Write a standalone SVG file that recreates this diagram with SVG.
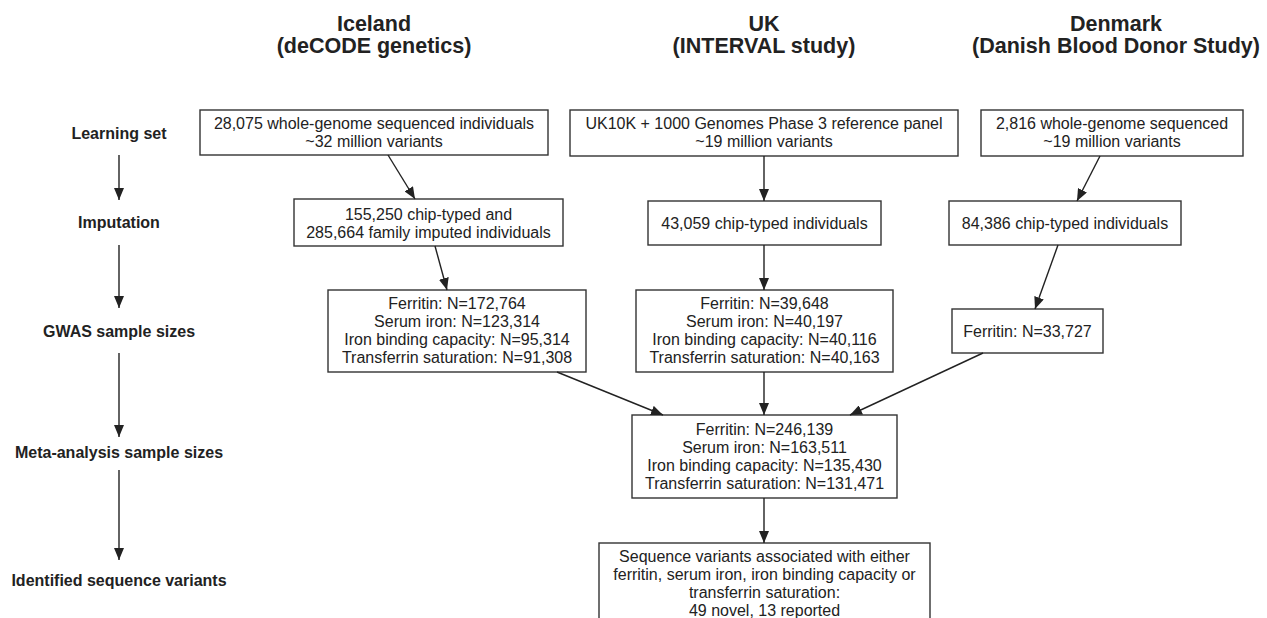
<svg xmlns="http://www.w3.org/2000/svg" width="1267" height="618" viewBox="0 0 1267 618">
<style>
.t{font-family:"Liberation Sans",Arial,sans-serif;font-size:16px;fill:#222;text-anchor:middle}
.h{font-family:"Liberation Sans",Arial,sans-serif;font-size:21.5px;font-weight:bold;fill:#222;text-anchor:middle}
.l{font-family:"Liberation Sans",Arial,sans-serif;font-size:16px;font-weight:bold;fill:#222;text-anchor:middle}
.b{fill:#fff;stroke:#333;stroke-width:1.4}
.c{stroke:#222;stroke-width:1.4;fill:none;marker-end:url(#ah)}
</style>
<defs>
<marker id="ah" markerUnits="userSpaceOnUse" markerWidth="12" markerHeight="10" viewBox="0 0 12 10" refX="12" refY="5" orient="auto">
<path d="M0,0 L12,5 L0,10 Z" fill="#222"/>
</marker>
</defs>
<rect width="1267" height="618" fill="#fff"/>
<g id="titles">
<text class="h" x="374" y="31">Iceland</text>
<text class="h" x="374" y="53">(deCODE genetics)</text>
<text class="h" x="764" y="31">UK</text>
<text class="h" x="764" y="53">(INTERVAL study)</text>
<text class="h" x="1116" y="31">Denmark</text>
<text class="h" x="1116" y="53">(Danish Blood Donor Study)</text>
</g>
<g id="stages">
<text class="l" x="119" y="139">Learning set</text>
<text class="l" x="119" y="228">Imputation</text>
<text class="l" x="119" y="337">GWAS sample sizes</text>
<text class="l" x="119" y="458">Meta-analysis sample sizes</text>
<text class="l" x="119" y="586">Identified sequence variants</text>
</g>
<g id="ice-learn"><rect class="b" x="200" y="110" width="348" height="45"/>
<text class="t" x="374" y="129">28,075 whole-genome sequenced individuals</text>
<text class="t" x="374" y="147">~32 million variants</text></g>
<g id="uk-learn"><rect class="b" x="570" y="110" width="388" height="46"/>
<text class="t" x="764" y="129">UK10K + 1000 Genomes Phase 3 reference panel</text>
<text class="t" x="764" y="147">~19 million variants</text></g>
<g id="dk-learn"><rect class="b" x="981" y="110" width="262" height="46"/>
<text class="t" x="1112" y="129">2,816 whole-genome sequenced</text>
<text class="t" x="1112" y="147">~19 million variants</text></g>
<g id="ice-imp"><rect class="b" x="294" y="199" width="269" height="47"/>
<text class="t" x="428.5" y="220">155,250 chip-typed and</text>
<text class="t" x="428.5" y="238">285,664 family imputed individuals</text></g>
<g id="uk-imp"><rect class="b" x="648" y="201" width="233" height="44"/>
<text class="t" x="764.5" y="229">43,059 chip-typed individuals</text></g>
<g id="dk-imp"><rect class="b" x="949" y="201" width="232" height="44"/>
<text class="t" x="1065" y="229">84,386 chip-typed individuals</text></g>
<g id="ice-gwas"><rect class="b" x="328" y="290" width="258" height="82"/>
<text class="t" x="457" y="309">Ferritin: N=172,764</text>
<text class="t" x="457" y="327">Serum iron: N=123,314</text>
<text class="t" x="457" y="345">Iron binding capacity: N=95,314</text>
<text class="t" x="457" y="363">Transferrin saturation: N=91,308</text></g>
<g id="uk-gwas"><rect class="b" x="636" y="290" width="257" height="82"/>
<text class="t" x="764.5" y="309">Ferritin: N=39,648</text>
<text class="t" x="764.5" y="327">Serum iron: N=40,197</text>
<text class="t" x="764.5" y="345">Iron binding capacity: N=40,116</text>
<text class="t" x="764.5" y="363">Transferrin saturation: N=40,163</text></g>
<g id="dk-gwas"><rect class="b" x="952" y="309" width="151" height="44"/>
<text class="t" x="1027.5" y="337">Ferritin: N=33,727</text></g>
<g id="meta"><rect class="b" x="632" y="415" width="265" height="83"/>
<text class="t" x="764.5" y="435">Ferritin: N=246,139</text>
<text class="t" x="764.5" y="453">Serum iron: N=163,511</text>
<text class="t" x="764.5" y="471">Iron binding capacity: N=135,430</text>
<text class="t" x="764.5" y="489">Transferrin saturation: N=131,471</text></g>
<g id="result"><rect class="b" x="599" y="543" width="331" height="100"/>
<text class="t" x="764.5" y="562">Sequence variants associated with either</text>
<text class="t" x="764.5" y="580">ferritin, serum iron, iron binding capacity or</text>
<text class="t" x="764.5" y="598">transferrin saturation:</text>
<text class="t" x="764.5" y="616">49 novel, 13 reported</text></g>
<g id="connectors">
<line class="c" x1="119" y1="155" x2="119" y2="200"/>
<line class="c" x1="119" y1="245" x2="119" y2="308"/>
<line class="c" x1="119" y1="353" x2="119" y2="437"/>
<line class="c" x1="119" y1="470" x2="119" y2="560"/>
<line class="c" x1="388" y1="155" x2="415" y2="199"/>
<line class="c" x1="764" y1="156" x2="764" y2="201"/>
<line class="c" x1="1100" y1="156" x2="1077" y2="201"/>
<line class="c" x1="435" y1="246" x2="447" y2="290"/>
<line class="c" x1="764" y1="245" x2="764" y2="290"/>
<line class="c" x1="1058" y1="245" x2="1035" y2="309"/>
<line class="c" x1="557" y1="372" x2="663" y2="415"/>
<line class="c" x1="764" y1="372" x2="764" y2="415"/>
<line class="c" x1="983" y1="353" x2="850" y2="415"/>
<line class="c" x1="764" y1="498" x2="764" y2="543"/>
</g>
</svg>
